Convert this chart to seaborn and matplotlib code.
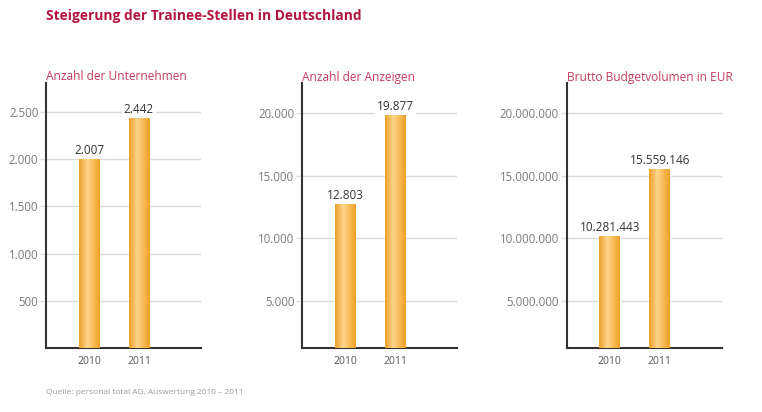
import numpy as np
import pandas as pd
import matplotlib
matplotlib.use('Agg')
import matplotlib.pyplot as plt
from matplotlib.colors import LinearSegmentedColormap
import seaborn as sns

sns.set_style('white')
plt.rcParams['font.family'] = ['Open Sans', 'DejaVu Sans']

# ========================================
# Daten
# ========================================
years = ['2010', '2011']
unternehmen = [2007, 2442]
anzeigen = [12803, 19877]
budget = [10281443, 15559146]

titles = ['Anzahl der Unternehmen', 'Anzahl der Anzeigen', 'Brutto Budgetvolumen in EUR']
yticks = [
    [500, 1000, 1500, 2000, 2500],
    [5000, 10000, 15000, 20000],
    [5000000, 10000000, 15000000, 20000000],
]
ylims = [(0, 2800), (1250, 22350), (1250000, 22350000)]

TITLE_RED = '#b3163c'
SUB_RED = '#c43c5c'
GRAY = '#7a7a7a'
GRID = '#dadada'

bar_cmap = LinearSegmentedColormap.from_list(
    'bar', [(0, '#eea02a'), (0.4, '#fdd68e'), (0.75, '#f6b64a'), (1, '#eea02a')])


def de_fmt(v):
    return f"{int(v):,}".replace(',', '.')


fig = plt.figure(figsize=(7.62, 4.12), dpi=100)
lefts = [0.0604, 0.3963, 0.7437]

for i, (vals, title) in enumerate(zip([unternehmen, anzeigen, budget], titles)):
    ax = fig.add_axes([lefts[i], 0.155, 0.204, 0.643])
    df = pd.DataFrame({'Jahr': years, 'Wert': vals})
    sns.barplot(data=df, x='Jahr', y='Wert', color='#f3aa38', width=0.41,
                order=years, ax=ax, zorder=2)
    ax.set_xlim(-0.86, 2.25)
    ax.set_ylim(*ylims[i])

    # Farbverlauf in den Balken
    grad = np.linspace(0, 1, 64).reshape(1, -1)
    for p in ax.patches:
        im = ax.imshow(grad, extent=[p.get_x(), p.get_x() + p.get_width(),
                                     ylims[i][0], p.get_height()],
                       aspect='auto', cmap=bar_cmap, zorder=3)
        im.set_clip_path(p)
        ax.annotate(de_fmt(p.get_height()),
                    (p.get_x() + p.get_width() / 2, p.get_height()),
                    xytext=(0, 5.5), textcoords='offset points',
                    ha='center', va='center', fontsize=8.5, color='#333333',
                    bbox=dict(facecolor='white', edgecolor='none', pad=1.5),
                    zorder=5)
    ax.set_xlim(-0.86, 2.25)
    ax.set_ylim(*ylims[i])

    ax.set_yticks(yticks[i])
    ax.set_yticklabels([de_fmt(t) for t in yticks[i]])
    ax.yaxis.grid(True, color=GRID, lw=1)
    ax.set_axisbelow(True)
    ax.tick_params(axis='y', length=4, width=1, color=GRID, pad=1.5,
                   labelsize=8.3, labelcolor=GRAY, left=True)
    ax.tick_params(axis='x', length=0, pad=6, labelsize=7.5, labelcolor='#555555')
    ax.set_xlabel('')
    ax.set_ylabel('')
    sns.despine(ax=ax)
    for s in ['left', 'bottom']:
        ax.spines[s].set_color('#333333')
        ax.spines[s].set_linewidth(1.5)

    fig.text(lefts[i], 1 - 77 / 412, title, fontsize=8.6, color=SUB_RED,
             ha='left', va='center')

fig.text(0.0604, 1 - 16 / 412, 'Steigerung der Trainee-Stellen in Deutschland',
         fontsize=9.9, fontweight='bold', color=TITLE_RED, ha='left', va='center')
fig.text(0.0604, 1 - 393 / 412, 'Quelle: personal total AG, Auswertung 2010 – 2011',
         fontsize=6, color='#999999', ha='left', va='center')

fig.savefig('out.png', dpi=100)
plt.close(fig)
